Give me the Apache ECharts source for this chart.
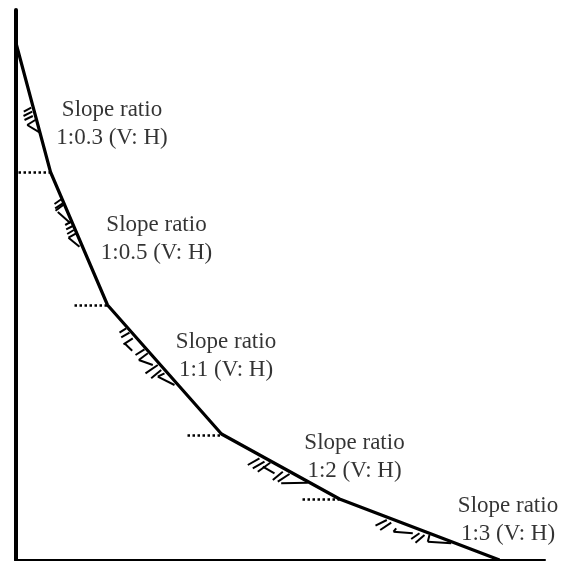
<!DOCTYPE html>
<html>
<head>
<meta charset="utf-8">
<style>
  html, body { margin: 0; padding: 0; background: #fff; }
  #chart { width: 565px; height: 561px; }
</style>
<script src="https://cdn.jsdelivr.net/npm/echarts@6/dist/echarts.min.js"></script>
</head>
<body>
<div id="chart"></div>
<script>
// slope profile: distance from the wall, height above the base
const slopeX = [1, 35, 92, 206, 324, 484]
const slopeH = [515, 388, 255, 126, 61, 0]

// dotted levels at each break of the slope: [x1, x2, height]
const levels = [
  [3, 35, 388],
  [59, 92, 255],
  [172, 206, 125],
  [287, 324, 61],
]

// hand drawn hatching under the slope: [x1, h1, x2, h2]
const hatch1 = [
  [15.7, 452.3, 8.3, 448.3],
  [16.7, 448.3, 8, 444],
  [17.3, 444, 9, 440],
  [19.7, 440, 11.7, 435],
  [11.7, 435, 24, 427.7],
]
const hatch2 = [
  [45.7, 360.7, 39, 356],
  [47.3, 356.7, 39.7, 351.7],
  [49, 356, 40, 349.3],
  [42.3, 348, 55, 336.7],
  [55.7, 338.3, 49.7, 335],
  [57.3, 334, 50.7, 330.7],
  [58.3, 330, 51.7, 326],
  [60.7, 326.7, 53, 322.3],
  [53, 322.3, 64, 313.3],
]
const hatch3 = [
  [110.7, 231.7, 104, 227.3],
  [114, 227.3, 105.7, 222.7],
  [117.3, 221.7, 108, 215.7],
  [109, 216.7, 116.7, 209.3],
  [129, 210.7, 120, 205],
  [132.3, 206.7, 123.3, 200],
  [123.3, 200, 137.3, 195],
  [142.3, 195, 130, 186.7],
  [145.7, 190, 135.7, 181.7],
  [149, 186.7, 142.3, 183.3],
  [142.3, 183.3, 159, 175],
]
const hatch4 = [
  [244, 101.7, 232.3, 95],
  [249, 98.3, 237.3, 91.7],
  [254.7, 97.3, 242.3, 88.3],
  [247.3, 93.3, 259, 86.7],
  [267.3, 88.3, 257.3, 80],
  [274, 86, 262.3, 78.3],
  [265.7, 76.7, 292.3, 77.3],
]
const hatch5 = [
  [371.3, 40, 360, 34.3],
  [375.7, 37.3, 364.7, 30],
  [380.7, 31.7, 378, 28.3],
  [378, 28.3, 397.3, 26.7],
  [404, 26.7, 395.7, 21],
  [409, 25, 400, 17.3],
  [414, 25, 412.3, 18.3],
  [412.3, 18.3, 435.7, 16.7],
]

const labelText = [
  'Slope ratio\n1:0.3 (V: H)',
  'Slope ratio\n1:0.5 (V: H)',
  'Slope ratio\n1:1 (V: H)',
  'Slope ratio\n1:2 (V: H)',
  'Slope ratio\n1:3 (V: H)',
]
const labelX = [96.5, 141, 210.5, 339, 492.5]
const labelH = [436.5, 321, 204.5, 103.5, 40]

let chart = echarts.init(document.getElementById('chart'))

chart.setOption({
  animation: false,
  backgroundColor: '#fff',
  grid: {
    left: 15.5,
    top: 10,
    width: 529.5,
    height: 550,
  },
  xAxis: {
    type: 'value',
    min: 0,
    max: 529.5,
    splitLine: { show: false },
    axisTick: { show: false },
    axisLabel: { show: false },
    axisLine: { show: true, lineStyle: { color: '#000', width: 2 } },
  },
  yAxis: {
    type: 'value',
    min: 0,
    max: 550,
    splitLine: { show: false },
    axisTick: { show: false },
    axisLabel: { show: false },
    axisLine: { show: true, lineStyle: { color: '#000', width: 4 } },
  },
  series: [
    {
      type: 'line',
      data: slopeX.map((x, i) => [x, slopeH[i]]),
      symbol: 'none',
      lineStyle: { color: '#000', width: 3.2 },
    },
    {
      type: 'lines',
      coordinateSystem: 'cartesian2d',
      data: levels.map((l) => ({ coords: [[l[0], l[2]], [l[1], l[2]]] })),
      lineStyle: { color: '#000', width: 2.5, type: [2.5, 2.5], opacity: 1 },
    },
    {
      type: 'lines',
      coordinateSystem: 'cartesian2d',
      data: [...hatch1, ...hatch2, ...hatch3, ...hatch4, ...hatch5].map((s) => ({
        coords: [[s[0], s[1]], [s[2], s[3]]],
      })),
      lineStyle: { color: '#000', width: 2, opacity: 1 },
    },
    {
      type: 'scatter',
      data: labelX.map((x, i) => ({ value: [x, labelH[i]], name: labelText[i] })),
      symbolSize: 1,
      itemStyle: { color: 'transparent' },
      label: {
        show: true,
        position: 'inside',
        formatter: '{b}',
        color: '#000',
        fontFamily: 'Liberation Serif',
        fontSize: 23,
        lineHeight: 28,
        align: 'center',
      },
    },
  ],
})
</script>
</body>
</html>
